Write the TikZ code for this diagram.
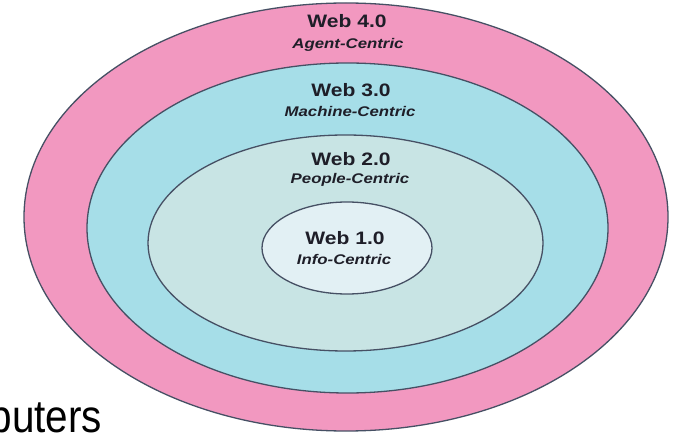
\documentclass[tikz,border=0pt]{standalone}
\usepackage{fontspec}
\setmainfont{Liberation Sans}
\definecolor{ringpink}{RGB}{242,152,192}
\definecolor{ringcyan}{RGB}{166,222,232}
\definecolor{ringsage}{RGB}{200,228,228}
\definecolor{ringpale}{RGB}{226,240,244}
\definecolor{ringline}{RGB}{70,80,100}
\definecolor{inktext}{RGB}{30,30,40}

\begin{document}
\begin{tikzpicture}[x=1pt,y=-1pt,
	ring/.style={draw=ringline, line width=1.3pt},
	ver/.style={anchor=base, inner sep=0pt, text=inktext, xscale=1.17, font=\fontsize{18}{20}\selectfont\bfseries},
	kind/.style={anchor=base, inner sep=0pt, text=inktext, xscale=1.2, font=\fontsize{14}{16}\selectfont\bfseries\itshape}]
			%%%%% START %%%%%
			
			\path[use as bounding box, clip] (0, 0) rectangle (677, 435);
			\fill[white] (0, 0) rectangle (677, 435);
			
			% rings, outside in
			\draw[ring, fill=ringpink] (346, 217) ellipse (322 and 214);
			\draw[ring, fill=ringcyan] (347.5, 228) ellipse (260.5 and 165);
			\draw[ring, fill=ringsage] (345.5, 243) ellipse (197.5 and 108);
			\draw[ring, fill=ringpale] (347, 248) ellipse (85 and 46);
			
			\node[ver] (web4) at (347, 28) {Web 4.0};
			\node[kind] (agent) at (348, 49) {Agent-Centric};
			
			\node[ver] (web3) at (351, 97) {Web 3.0};
			\node[kind] (machine) at (350, 117) {Machine-Centric};
			
			\node[ver] (web2) at (351, 166) {Web 2.0};
			\node[kind] (people) at (350, 184) {People-Centric};
			
			\node[ver] (web1) at (345, 245) {Web 1.0};
			\node[kind] (info) at (344, 265) {Info-Centric};
			
			\node[anchor=base west, inner sep=0pt, xscale=0.88, font=\fontsize{46}{46}\selectfont] (puters) at (-10.5, 432) {puters};
			
			%%%%% END %%%%%
\end{tikzpicture}
\end{document}
